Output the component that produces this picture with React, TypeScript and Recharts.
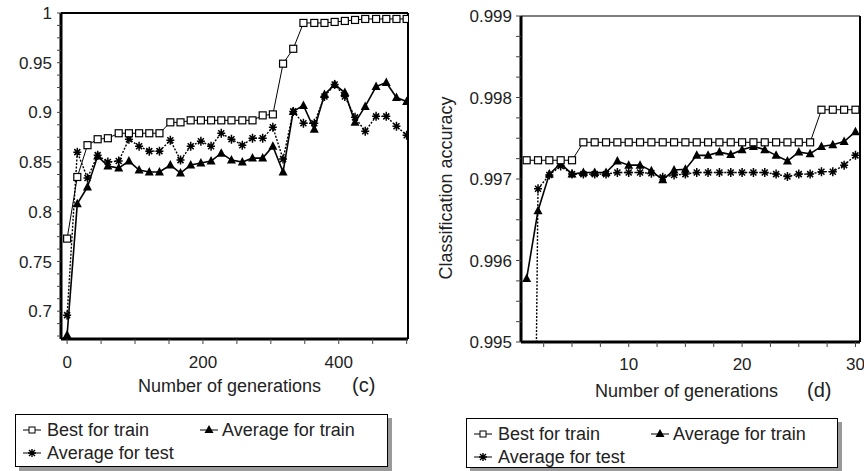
import React from "react";
import { LineChart, Line, XAxis, YAxis, ReferenceLine } from "recharts";

// (c) — 500 generations
const genC = [0, 15, 30, 45, 60, 76, 91, 106, 121, 136, 152, 167, 182, 197, 212, 227, 242, 258, 273, 288, 303, 318, 333, 348, 364, 379, 394, 409, 424, 439, 455, 470, 485, 500];
const bestTrainC = [0.773, 0.835, 0.867, 0.873, 0.874, 0.879, 0.879, 0.879, 0.879, 0.879, 0.89, 0.89, 0.892, 0.892, 0.892, 0.892, 0.892, 0.892, 0.892, 0.897, 0.898, 0.949, 0.964, 0.99, 0.99, 0.99, 0.991, 0.992, 0.993, 0.994, 0.994, 0.994, 0.994, 0.994];
const avgTrainC = [0.676, 0.808, 0.825, 0.856, 0.846, 0.844, 0.851, 0.842, 0.84, 0.84, 0.847, 0.839, 0.847, 0.849, 0.851, 0.859, 0.852, 0.85, 0.854, 0.854, 0.866, 0.84, 0.901, 0.907, 0.883, 0.918, 0.928, 0.92, 0.89, 0.906, 0.926, 0.93, 0.915, 0.911];
const avgTestC = [0.696, 0.86, 0.834, 0.857, 0.85, 0.851, 0.873, 0.866, 0.861, 0.861, 0.872, 0.852, 0.866, 0.871, 0.866, 0.879, 0.873, 0.867, 0.874, 0.874, 0.885, 0.853, 0.901, 0.889, 0.889, 0.916, 0.928, 0.916, 0.895, 0.881, 0.896, 0.896, 0.886, 0.877];

const xDomainC = [-9, 502];
const yDomainC = [0.672, 1];
const xTicksC = [0, 50, 100, 150, 200, 250, 300, 350, 400, 450, 500];
const xLabelsC = [0, 200, 400];
const yTicksC = [0.675, 0.6875, 0.7, 0.7125, 0.725, 0.7375, 0.75, 0.7625, 0.775, 0.7875, 0.8, 0.8125, 0.825, 0.8375, 0.85, 0.8625, 0.875, 0.8875, 0.9, 0.9125, 0.925, 0.9375, 0.95, 0.9625, 0.975, 0.9875, 1];
const yLabelsC = ["0.7", "0.75", "0.8", "0.85", "0.9", "0.95", "1"];

// (d) — 30 generations
const genD = [1, 2, 3, 4, 5, 6, 7, 8, 9, 10, 11, 12, 13, 14, 15, 16, 17, 18, 19, 20, 21, 22, 23, 24, 25, 26, 27, 28, 29, 30];
const bestTrainD = [0.99723, 0.99723, 0.99723, 0.99723, 0.99723, 0.99745, 0.99745, 0.99745, 0.99745, 0.99745, 0.99745, 0.99745, 0.99745, 0.99745, 0.99745, 0.99745, 0.99745, 0.99745, 0.99745, 0.99745, 0.99745, 0.99745, 0.99745, 0.99745, 0.99745, 0.99745, 0.99785, 0.99785, 0.99785, 0.99785];
const avgTrainD = [0.99578, 0.99661, 0.99706, 0.99719, 0.99706, 0.99708, 0.99708, 0.99708, 0.99722, 0.99717, 0.99717, 0.9971, 0.99699, 0.99711, 0.99712, 0.99729, 0.99729, 0.99733, 0.9973, 0.99736, 0.9974, 0.99736, 0.99729, 0.99722, 0.99733, 0.99731, 0.9974, 0.99742, 0.99746, 0.99758];
const avgTestD = [0.9834, 0.99688, 0.99705, 0.99716, 0.99706, 0.99706, 0.99706, 0.99706, 0.99708, 0.99708, 0.99708, 0.99707, 0.99702, 0.99705, 0.99706, 0.99708, 0.99708, 0.99708, 0.99708, 0.99708, 0.99708, 0.99708, 0.99706, 0.99703, 0.99706, 0.99706, 0.99709, 0.99709, 0.99717, 0.99729];

const xDomainD = [0.5, 30.4];
const yDomainD = [0.995, 0.999];
const xTicksD = [2.5, 5, 7.5, 10, 12.5, 15, 17.5, 20, 22.5, 25, 27.5, 30];
const xLabelsD = [10, 20, 30];
const yTicksD = [0.995, 0.99525, 0.9955, 0.99575, 0.996, 0.99625, 0.9965, 0.99675, 0.997, 0.99725, 0.9975, 0.99775, 0.998, 0.99825, 0.9985, 0.99875, 0.999];
const yLabelsD = ["0.995", "0.996", "0.997", "0.998", "0.999"];

const dataC = genC.map((g, i) => ({ gen: g, best: bestTrainC[i], avg: avgTrainC[i], test: avgTestC[i] }));
const dataD = genD.map((g, i) => ({ gen: g, best: bestTrainD[i], avg: avgTrainD[i], test: avgTestD[i] }));

const FONT = "'Liberation Sans', Arial, sans-serif";
const tickStyle = { fill: "#222", fontSize: 17, fontFamily: FONT };

const near = (a: number, b: number) => Math.abs(a - b) < 1e-7;
const fmtXC = (v: number) => (xLabelsC.some((l) => near(l, v)) ? String(v) : "");
const fmtYC = (v: number) => yLabelsC.find((l) => near(Number(l), v)) ?? "";
const fmtXD = (v: number) => (xLabelsD.some((l) => near(l, v)) ? String(v) : "");
const fmtYD = (v: number) => yLabelsD.find((l) => near(Number(l), v)) ?? "";

function SquareDot(p: any) {
  const { cx, cy, index } = p;
  if (cx == null || cy == null) return <g key={`s${index}`} />;
  return <rect key={`s${index}`} x={cx - 3.5} y={cy - 3.5} width={7} height={7} fill="#fff" stroke="#000" strokeWidth={1.2} />;
}

function TriDot(p: any) {
  const { cx, cy, index } = p;
  if (cx == null || cy == null) return <g key={`t${index}`} />;
  return <path key={`t${index}`} d={`M${cx},${cy - 5} L${cx + 4.5},${cy + 3.5} L${cx - 4.5},${cy + 3.5} Z`} fill="#000" />;
}

function StarDot(p: any) {
  const { cx, cy, index } = p;
  if (cx == null || cy == null) return <g key={`a${index}`} />;
  return (
    <path
      key={`a${index}`}
      d={`M${cx - 4},${cy} H${cx + 4} M${cx},${cy - 4.5} V${cy + 4.5} M${cx - 3},${cy - 3} L${cx + 3},${cy + 3} M${cx - 3},${cy + 3} L${cx + 3},${cy - 3}`}
      stroke="#000"
      strokeWidth={1.5}
      fill="none"
    />
  );
}

function XTitle(props: any) {
  const { viewBox, text, tag, startDx, tagDx, dy } = props;
  const x = viewBox?.x ?? 0;
  const y = (viewBox?.y ?? 0) + dy;
  return (
    <g>
      <text x={x + startDx} y={y} fontSize={18} fontFamily={FONT} fill="#222">{text}</text>
      <text x={x + tagDx} y={y} fontSize={20} fontFamily={FONT} fill="#222">{tag}</text>
    </g>
  );
}

function YTitle(props: any) {
  const { viewBox } = props;
  const cx = (viewBox?.x ?? 0) + 16;
  const cy = (viewBox?.y ?? 0) + 172;
  return (
    <text x={cx} y={cy} transform={`rotate(-90, ${cx}, ${cy})`} textAnchor="middle" dominantBaseline="central" fontSize={18} fontFamily={FONT} fill="#222">
      Classification accuracy
    </text>
  );
}

function LegendBox({ left, top, width, height }: { left: number; top: number; width: number; height: number }) {
  const row1 = 22;
  const row2 = 45;
  return (
    <div style={{ position: "absolute", left, top, width, height, border: "1.5px solid #000", background: "#fff", boxShadow: "4px 4px 0 #9a9a9a", boxSizing: "border-box" }}>
      <svg width={width} height={height} style={{ position: "absolute", left: -1.5, top: -1.5 }}>
        <g stroke="#000" strokeWidth={1}>
          <line x1={8} x2={26} y1={row1 - 6} y2={row1 - 6} />
          <rect x={14} y={row1 - 9} width={6} height={6} fill="#fff" />
          <line x1={185} x2={203} y1={row1 - 6} y2={row1 - 6} />
          <line x1={8} x2={26} y1={row2 - 6} y2={row2 - 6} />
        </g>
        <path d={`M194,${row1 - 11} L198.5,${row1 - 3} L189.5,${row1 - 3} Z`} fill="#000" />
        <path d={`M13,${row2 - 6} H21 M17,${row2 - 10} V${row2 - 2} M14,${row2 - 9} L20,${row2 - 3} M14,${row2 - 3} L20,${row2 - 9}`} stroke="#000" strokeWidth={1.4} fill="none" />
        <g fontSize={18} fontFamily={FONT} fill="#222">
          <text x={32} y={row1}>Best for train</text>
          <text x={207} y={row1}>Average for train</text>
          <text x={32} y={row2}>Average for test</text>
        </g>
      </svg>
    </div>
  );
}

export default function App() {
  return (
    <div style={{ position: "absolute", left: 0, top: 0, width: 864, height: 471, background: "#fff", overflow: "hidden" }}>
      <div style={{ position: "absolute", left: 0, top: 0 }}>
        <LineChart width={420} height={405} data={dataC} margin={{ top: 13, right: 12, bottom: 0, left: 0 }}>
          <XAxis
            dataKey="gen"
            type="number"
            domain={xDomainC}
            allowDataOverflow
            ticks={xTicksC}
            interval={0}
            tickFormatter={fmtXC}
            tickSize={5}
            tickMargin={12}
            height={66}
            axisLine={{ stroke: "#000", strokeWidth: 3 }}
            tickLine={{ stroke: "#444" }}
            tick={tickStyle}
            label={<XTitle text="Number of generations" tag="(c)" startDx={77} tagDx={291} dy={53} />}
          />
          <YAxis
            type="number"
            domain={yDomainC}
            allowDataOverflow
            ticks={yTicksC}
            interval={0}
            tickFormatter={fmtYC}
            width={61}
            tickSize={4}
            tickMargin={5}
            axisLine={{ stroke: "#000", strokeWidth: 3 }}
            tickLine={{ stroke: "#444" }}
            tick={tickStyle}
          />
          <ReferenceLine y={yDomainC[1]} stroke="#000" strokeWidth={2} />
          <ReferenceLine x={xDomainC[1]} stroke="#000" strokeWidth={2} />
          <Line dataKey="test" stroke="#000" strokeWidth={1.4} strokeDasharray="2 1.5" dot={StarDot} isAnimationActive={false} />
          <Line dataKey="avg" stroke="#000" strokeWidth={1.6} dot={TriDot} isAnimationActive={false} />
          <Line dataKey="best" stroke="#000" strokeWidth={1} dot={SquareDot} isAnimationActive={false} />
        </LineChart>
      </div>

      <div style={{ position: "absolute", left: 430, top: 0 }}>
        <LineChart width={434} height={410} data={dataD} margin={{ top: 16, right: 4, bottom: 0, left: 0 }}>
          <XAxis
            dataKey="gen"
            type="number"
            domain={xDomainD}
            allowDataOverflow
            ticks={xTicksD}
            interval={0}
            tickFormatter={fmtXD}
            tickSize={5}
            tickMargin={11}
            height={68}
            axisLine={{ stroke: "#000", strokeWidth: 3 }}
            tickLine={{ stroke: "#444" }}
            tick={tickStyle}
            label={<XTitle text="Number of generations" tag="(d)" startDx={74} tagDx={286} dy={55} />}
          />
          <YAxis
            type="number"
            domain={yDomainD}
            allowDataOverflow
            ticks={yTicksD}
            interval={0}
            tickFormatter={fmtYD}
            width={91}
            tickSize={5}
            tickMargin={4}
            axisLine={{ stroke: "#000", strokeWidth: 3 }}
            tickLine={{ stroke: "#444" }}
            tick={tickStyle}
            label={<YTitle />}
          />
          <ReferenceLine y={yDomainD[1]} stroke="#000" strokeWidth={1.2} />
          <ReferenceLine x={xDomainD[1]} stroke="#000" strokeWidth={2} />
          <Line dataKey="test" stroke="#000" strokeWidth={1.4} strokeDasharray="2 1.5" dot={StarDot} isAnimationActive={false} />
          <Line dataKey="avg" stroke="#000" strokeWidth={1.6} dot={TriDot} isAnimationActive={false} />
          <Line dataKey="best" stroke="#000" strokeWidth={1} dot={SquareDot} isAnimationActive={false} />
        </LineChart>
      </div>

      <LegendBox left={15} top={414} width={373} height={53} />
      <LegendBox left={466} top={418} width={372} height={50} />
    </div>
  );
}
